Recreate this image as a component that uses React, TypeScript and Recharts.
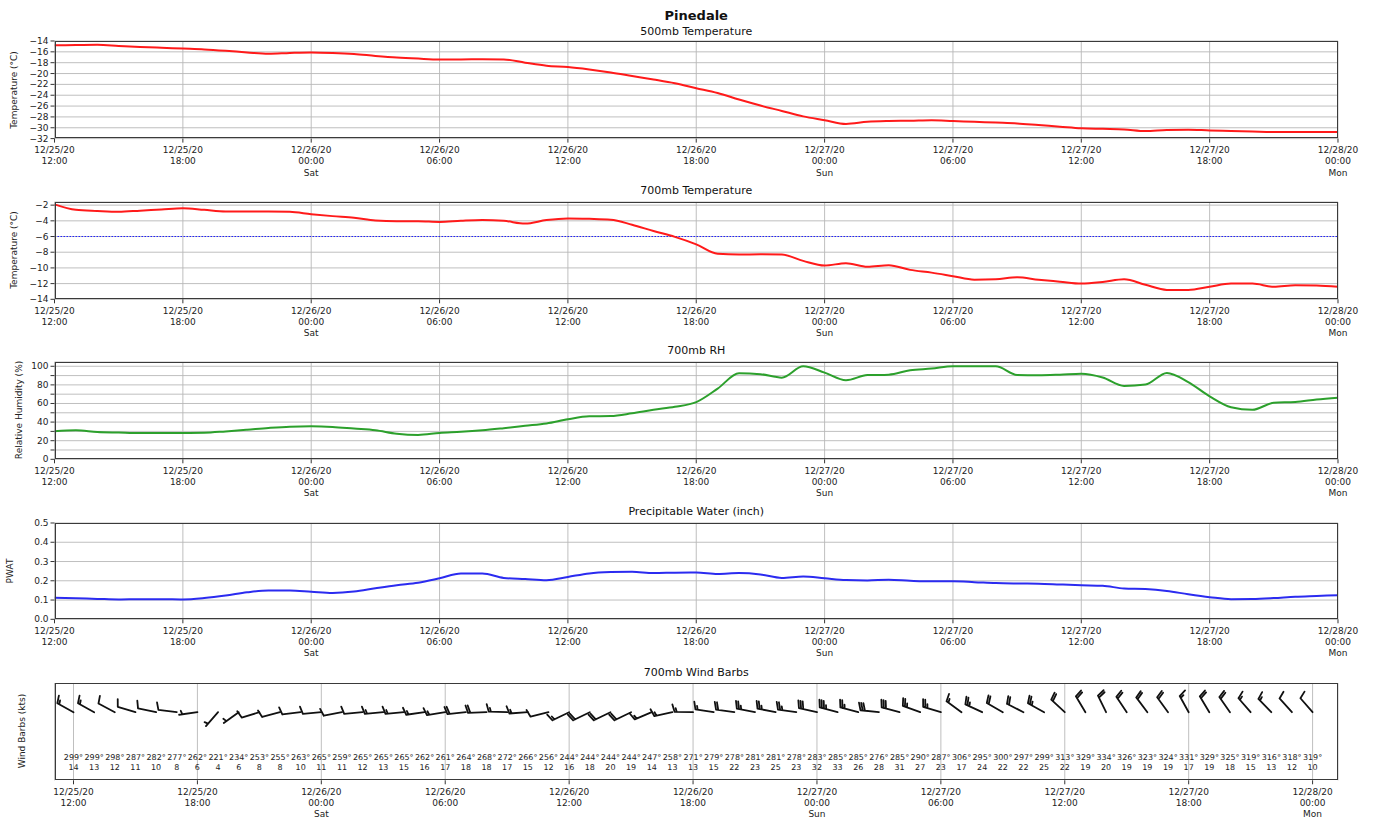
import { LineChart, Line, XAxis, YAxis, CartesianGrid, ReferenceLine, ScatterChart, Scatter } from 'recharts'

const FONT = '"DejaVu Sans", sans-serif'

// hours since 12/25/20 12:00
const hours = [
  0, 1, 2, 3, 4, 5, 6, 7, 8, 9, 10, 11, 12, 13, 14, 15, 16, 17, 18, 19, 20,
  21, 22, 23, 24, 25, 26, 27, 28, 29, 30, 31, 32, 33, 34, 35, 36, 37, 38, 39, 40,
  41, 42, 43, 44, 45, 46, 47, 48, 49, 50, 51, 52, 53, 54, 55, 56, 57, 58, 59, 60,
]

const temp500 = [
  -14.8, -14.75, -14.7, -14.9, -15.1, -15.25, -15.4, -15.55, -15.8, -16.1, -16.35,
  -16.2, -16.1, -16.2, -16.4, -16.75, -17.05, -17.25, -17.4, -17.4, -17.35,
  -17.4, -18.0, -18.55, -18.8, -19.25, -19.8, -20.45, -21.1, -21.8, -22.7,
  -23.6, -24.8, -25.9, -26.9, -27.9, -28.6, -29.3, -28.9, -28.75, -28.7,
  -28.6, -28.75, -28.9, -29.05, -29.2, -29.5, -29.8, -30.1, -30.2, -30.3,
  -30.6, -30.4, -30.35, -30.5, -30.6, -30.7, -30.8, -30.8, -30.8, -30.8,
]

const temp700 = [
  -1.9, -2.6, -2.75, -2.85, -2.7, -2.55, -2.4, -2.6, -2.8, -2.8, -2.8,
  -2.85, -3.15, -3.4, -3.6, -3.95, -4.05, -4.05, -4.15, -4.0, -3.9,
  -4.0, -4.35, -3.9, -3.7, -3.75, -3.85, -4.5, -5.3, -6.05, -7.0,
  -8.2, -8.3, -8.25, -8.3, -9.1, -9.7, -9.4, -9.85, -9.65, -10.25,
  -10.6, -11.05, -11.5, -11.45, -11.2, -11.5, -11.75, -12.0, -11.8, -11.45,
  -12.15, -12.8, -12.8, -12.4, -12.0, -12.0, -12.4, -12.2, -12.25, -12.4,
]

const rh700 = [
  30.1, 31.2, 29.4, 28.8, 28.3, 28.3, 28.3, 28.5, 30.0, 31.8, 33.7,
  35.1, 35.5, 34.8, 33.0, 31.2, 27.5, 26.2, 28.3, 29.5, 31.2,
  33.5, 36.0, 38.5, 43.0, 46.2, 46.5, 49.5, 53.3, 56.5, 61.5,
  76.0, 92.5, 91.5, 87.8, 100.0, 93.2, 85.0, 90.5, 91.0, 95.7,
  97.5, 100.0, 100.0, 100.0, 90.7, 90.3, 91.0, 92.1, 88.0, 78.9,
  80.3, 92.8, 83.0, 67.7, 56.0, 53.2, 60.8, 61.6, 64.2, 66.3,
]

const pwat = [
  0.112, 0.109, 0.106, 0.103, 0.104, 0.104, 0.103, 0.11, 0.123, 0.14, 0.15,
  0.149, 0.143, 0.137, 0.144, 0.161, 0.177, 0.19, 0.213, 0.238, 0.238,
  0.215, 0.209, 0.203, 0.22, 0.238, 0.245, 0.247, 0.24, 0.242, 0.243,
  0.235, 0.24, 0.233, 0.215, 0.222, 0.213, 0.204, 0.202, 0.205, 0.2,
  0.197, 0.197, 0.193, 0.188, 0.186, 0.185, 0.181, 0.177, 0.174, 0.16,
  0.157, 0.147, 0.13, 0.115, 0.104, 0.105, 0.11, 0.117, 0.121, 0.125,
]

const windDir = [
  299, 299, 298, 287, 282, 277, 262, 221, 234, 253, 255, 263, 265, 259, 265, 265,
  265, 262, 261, 264, 268, 272, 266, 256, 244, 244, 244, 244, 247, 258, 271, 279,
  278, 281, 281, 278, 283, 285, 285, 276, 285, 290, 287, 306, 295, 300, 297, 299,
  313, 329, 334, 326, 323, 324, 331, 329, 325, 319, 316, 318, 319,
]

const windSpd = [
  14, 13, 12, 11, 10, 8, 6, 4, 6, 8, 8, 10, 11, 11, 12, 13,
  15, 16, 17, 18, 18, 17, 15, 12, 16, 18, 20, 19, 14, 13, 13, 15,
  22, 23, 25, 23, 32, 33, 26, 28, 31, 27, 23, 17, 24, 22, 22, 25,
  22, 19, 20, 19, 19, 19, 17, 19, 18, 15, 13, 12, 10,
]

const tickHours = [0, 6, 12, 18, 24, 30, 36, 42, 48, 54, 60]
const tickDates = ['12/25/20', '12/25/20', '12/26/20', '12/26/20', '12/26/20', '12/26/20', '12/27/20', '12/27/20', '12/27/20', '12/27/20', '12/28/20']
const tickTimes = ['12:00', '18:00', '00:00', '06:00', '12:00', '18:00', '00:00', '06:00', '12:00', '18:00', '00:00']
const tickDays = ['', '', 'Sat', '', '', '', 'Sun', '', '', '', 'Mon']

const rows = hours.map((h, i) => ({ h, t500: temp500[i], t700: temp700[i], rh: rh700[i], pw: pwat[i] }))
const windRows = hours.map((h, i) => ({ h, y: 0.7, dir: windDir[i], spd: windSpd[i] }))

const W = 1374
const LEFT = 54.5
const RIGHT = 1338
const PAD = 10
const XAX = 45
const GRID = '#b8b8b8'

// eslint-disable-next-line @typescript-eslint/no-explicit-any
function TimeTick({ x, y, payload }: any) {
  const i = tickHours.indexOf(payload.value)
  return (
    <g transform={`translate(${x},${y})`}>
      <text textAnchor="middle" fontSize={9} fill="#222" fontFamily={FONT}>
        <tspan x={0} y={8.5}>{tickDates[i]}</tspan>
        <tspan x={0} y={19.5}>{tickTimes[i]}</tspan>
        {tickDays[i] && <tspan x={0} y={31}>{tickDays[i]}</tspan>}
      </text>
    </g>
  )
}

// eslint-disable-next-line @typescript-eslint/no-explicit-any
function ValueTick({ x, y, payload, fmt }: any) {
  return (
    <text x={x} y={y} textAnchor="end" dominantBaseline="central" fontSize={9} fill="#222" fontFamily={FONT}>
      {fmt(payload.value)}
    </text>
  )
}

const minus = (v: number) => (v < 0 ? '\u2212' + Math.abs(v) : String(v))

// matplotlib style wind barb, staff points to where the wind comes from
// eslint-disable-next-line @typescript-eslint/no-explicit-any
function Barb({ cx, cy, payload }: any) {
  if (cx == null || cy == null) return null
  const L = 18.5
  const H = L * 0.4
  const FW = L * 0.25
  const S = L * 0.12
  const a = (payload.dir * Math.PI) / 180
  const dx = Math.sin(a)
  const dy = -Math.cos(a)
  const px = -dy
  const py = dx
  const tx = cx + dx * L
  const ty = cy + dy * L
  const steps = Math.round(payload.spd / 5)
  const full = Math.floor(steps / 2)
  const half = steps % 2
  let off = 0
  let d = `M${cx},${cy}L${tx},${ty}`
  for (let k = 0; k < full; k++) {
    const sx = tx - dx * off
    const sy = ty - dy * off
    d += `M${sx},${sy}L${sx + px * H + dx * FW / 2},${sy + py * H + dy * FW / 2}`
    off += S
  }
  if (half) {
    if (off === 0) off = 1.5 * S
    const sx = tx - dx * off
    const sy = ty - dy * off
    d += `M${sx},${sy}L${sx + px * H / 2 + dx * FW / 4},${sy + py * H / 2 + dy * FW / 4}`
  }
  return (
    <g>
      <path d={d} stroke="#111" strokeWidth={1.8} fill="none" strokeLinecap="round" strokeLinejoin="round" />
      <text x={cx} y={cy + 45} textAnchor="middle" dominantBaseline="central" fontSize={8} fill="#222" fontFamily={FONT}>
        {payload.dir}°
      </text>
      <text x={cx} y={cy + 55.6} textAnchor="middle" dominantBaseline="central" fontSize={8} fill="#222" fontFamily={FONT}>
        {payload.spd}
      </text>
    </g>
  )
}

function Frame({ top, bottom }: { top: number; bottom: number }) {
  return (
    <div
      style={{
        position: 'absolute', left: LEFT, top, width: RIGHT - LEFT, height: bottom - top,
        border: '1px solid #3a3a3a', boxSizing: 'border-box', pointerEvents: 'none',
      }}
    />
  )
}

function Title({ y, text, size = 11, bold = false }: { y: number; text: string; size?: number; bold?: boolean }) {
  return (
    <div
      style={{
        position: 'absolute', left: LEFT, width: RIGHT - LEFT, top: y - 8, height: 16, lineHeight: '16px',
        textAlign: 'center', fontSize: size, fontWeight: bold ? 'bold' : 'normal', color: '#111',
      }}
    >
      {text}
    </div>
  )
}

function YLabel({ x, y, text }: { x: number; y: number; text: string }) {
  return (
    <div
      style={{
        position: 'absolute', left: x, top: y, transform: 'translate(-50%,-50%) rotate(-90deg)',
        fontSize: 9, lineHeight: 1, whiteSpace: 'nowrap', color: '#222',
      }}
    >
      {text}
    </div>
  )
}

interface PanelProps {
  top: number
  bottom: number
  dataKey: string
  color: string
  domain: [number, number]
  ticks: number[]
  fmt: (v: number) => string
  width?: number
  children?: React.ReactNode
}

function Panel({ top, bottom, dataKey, color, domain, ticks, fmt, width = 2, children }: PanelProps) {
  const plotH = bottom - top
  return (
    <div style={{ position: 'absolute', left: 0, top: top - PAD }}>
      <LineChart width={W} height={PAD + plotH + XAX} data={rows} margin={{ top: PAD, right: W - RIGHT, bottom: 0, left: 0 }}>
        <CartesianGrid stroke={GRID} strokeWidth={0.9} />
        <XAxis
          type="number" dataKey="h" domain={[0, 60]} ticks={tickHours} interval={0} height={XAX}
          tickSize={4} tick={<TimeTick />} axisLine={false} stroke="#333" allowDataOverflow
        />
        <YAxis
          type="number" domain={domain} ticks={ticks} interval={0} width={LEFT} tickSize={4}
          tick={(p) => <ValueTick {...p} fmt={fmt} />} axisLine={false} stroke="#333" allowDataOverflow
        />
        {children}
        <Line type="monotone" dataKey={dataKey} stroke={color} strokeWidth={width} dot={false} isAnimationActive={false} />
      </LineChart>
    </div>
  )
}

export default function App() {
  const windTop = 682.7
  const windBottom = 780
  return (
    <div style={{ position: 'absolute', left: 0, top: 0, width: W, height: 819, background: '#fff', fontFamily: FONT, overflow: 'hidden' }}>
      <Title y={16} text="Pinedale" size={13} bold />

      <Title y={31.5} text="500mb Temperature" />
      <Panel top={40.7} bottom={138.3} dataKey="t500" color="#ff1a1a" domain={[-32, -14]}
        ticks={[-32, -30, -28, -26, -24, -22, -20, -18, -16, -14]} fmt={minus} />
      <Frame top={40.7} bottom={138.3} />
      <YLabel x={13.5} y={89.5} text="Temperature (°C)" />

      <Title y={190.5} text="700mb Temperature" />
      <Panel top={201.7} bottom={299} dataKey="t700" color="#ff1a1a" domain={[-14, -1.6]}
        ticks={[-14, -12, -10, -8, -6, -4, -2]} fmt={minus}>
        <ReferenceLine y={-6} stroke="#2020ff" strokeWidth={1.2} strokeDasharray="1.5 1.5" />
      </Panel>
      <Frame top={201.7} bottom={299} />
      <YLabel x={13.5} y={250.3} text="Temperature (°C)" />

      <Title y={350.5} text="700mb RH" />
      <Panel top={361.7} bottom={459} dataKey="rh" color="#2ca02c" domain={[0, 104.6]}
        ticks={[0, 10, 20, 30, 40, 50, 60, 70, 80, 90, 100]} fmt={(v) => (v % 20 === 0 ? String(v) : '')} />
      <Frame top={361.7} bottom={459} />
      <YLabel x={19} y={410.3} text="Relative Humidity (%)" />

      <Title y={511.5} text="Precipitable Water (inch)" />
      <Panel top={522.7} bottom={619} dataKey="pw" color="#2b2bf0" domain={[0, 0.5]}
        ticks={[0, 0.1, 0.2, 0.3, 0.4, 0.5]} fmt={(v) => v.toFixed(1)} />
      <Frame top={522.7} bottom={619} />
      <YLabel x={9.5} y={570.8} text="PWAT" />

      <Title y={673.3} text="700mb Wind Barbs" />
      <div style={{ position: 'absolute', left: 0, top: windTop - PAD }}>
        <ScatterChart width={W} height={PAD + (windBottom - windTop) + XAX} margin={{ top: PAD, right: W - RIGHT, bottom: 0, left: LEFT }}>
          <CartesianGrid horizontal={false} stroke={GRID} strokeWidth={0.9} />
          <XAxis
            type="number" dataKey="h" domain={[-0.92, 61.23]} ticks={tickHours} interval={0} height={XAX}
            tickSize={4} tick={<TimeTick />} axisLine={false} stroke="#333" allowDataOverflow
          />
          <YAxis type="number" dataKey="y" domain={[0, 1]} hide />
          <Scatter data={windRows} shape={(p: unknown) => <Barb {...(p as object)} />} isAnimationActive={false} />
        </ScatterChart>
      </div>
      <Frame top={windTop} bottom={windBottom} />
      <YLabel x={21.7} y={731.3} text="Wind Barbs (kts)" />
    </div>
  )
}
